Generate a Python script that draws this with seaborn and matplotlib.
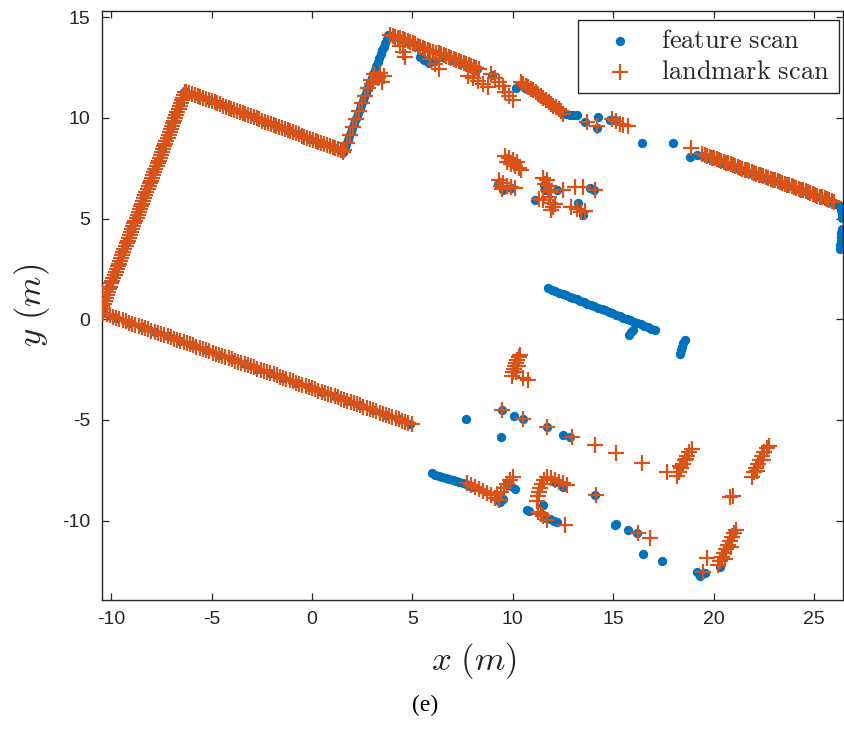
import numpy as np
import pandas as pd
import matplotlib
matplotlib.use("Agg")
import matplotlib.pyplot as plt
import seaborn as sns

BLUE = "#0072BD"
ORANGE = "#D95319"

# ---------------- feature scan (dots) ----------------
feat_wall_a_x = [-10.55, -10.33, -10.11, -9.89, -9.67, -9.45, -9.23, -9.01, -8.79, -8.57,
                 -8.35, -8.13, -7.91, -7.69, -7.47, -7.25, -7.03, -6.81, -6.59, -6.37]
feat_wall_a_y = [0.50, 1.07, 1.63, 2.20, 2.77, 3.34, 3.91, 4.47, 5.04, 5.61,
                 6.18, 6.75, 7.31, 7.88, 8.45, 9.02, 9.59, 10.15, 10.72, 11.29]

feat_wall_b_x = [-6.26, -5.70, -5.14, -4.58, -4.02, -3.46, -2.90, -2.34, -1.78, -1.22,
                 -0.66, -0.10, 0.46, 1.02, 1.55]
feat_wall_b_y = [11.31, 11.10, 10.88, 10.67, 10.46, 10.25, 10.03, 9.82, 9.61, 9.40,
                 9.18, 8.97, 8.76, 8.55, 8.33]

feat_wall_c_x = [1.55, 1.62, 1.70, 1.77, 1.85, 1.92, 2.00, 2.07, 2.15, 2.22, 2.30, 2.37,
                 2.45, 2.52, 2.60, 2.67, 2.75, 2.82, 2.90, 2.97, 3.04, 3.12, 3.19, 3.27,
                 3.34, 3.42, 3.49, 3.57, 3.64, 3.72, 3.79]
feat_wall_c_y = [8.33, 8.52, 8.72, 8.91, 9.10, 9.30, 9.49, 9.68, 9.88, 10.07, 10.26, 10.46,
                 10.65, 10.84, 11.04, 11.23, 11.42, 11.62, 11.81, 12.00, 12.20, 12.39,
                 12.58, 12.78, 12.97, 13.16, 13.36, 13.55, 13.74, 13.94, 14.13]

feat_top_x = [4.00, 4.40, 4.80, 5.20, 5.37, 5.60, 5.85, 6.10, 6.50, 6.60, 7.00, 7.40, 7.80,
              8.20, 8.97, 10.15, 10.60, 11.00, 11.40, 11.80, 12.20, 12.50, 12.65, 12.85,
              13.00, 13.19, 13.60, 14.26, 14.18, 14.85, 15.10, 16.43, 17.96, 18.82, 19.20]
feat_top_y = [14.05, 13.90, 13.75, 13.60, 13.05, 12.90, 12.75, 12.85, 13.05, 13.10, 12.90,
              12.75, 12.60, 12.45, 12.14, 11.50, 11.50, 11.30, 11.00, 10.75, 10.50, 10.25,
              10.20, 10.15, 10.15, 10.15, 9.82, 10.07, 9.50, 9.90, 9.90, 8.74, 8.74, 8.08, 8.16]

feat_wall_e_x = [19.50, 19.85, 20.20, 20.55, 20.90, 21.25, 21.60, 21.95, 22.30, 22.65,
                 23.00, 23.35, 23.70, 24.05, 24.40, 24.75, 25.10, 25.45, 25.80, 26.10,
                 26.30, 26.35, 26.40, 26.42, 26.40, 26.37, 26.35, 26.33, 26.31, 26.30]
feat_wall_e_y = [8.10, 7.97, 7.85, 7.72, 7.60, 7.47, 7.35, 7.22, 7.10, 6.97,
                 6.85, 6.72, 6.60, 6.47, 6.35, 6.22, 6.10, 5.97, 5.85, 5.75,
                 5.65, 5.45, 5.25, 5.05, 4.50, 4.30, 4.10, 3.90, 3.70, 3.50]

feat_wall_f_x = [-10.55, -10.45, -9.76, -9.12, -8.48, -7.84, -7.20, -6.56, -5.92, -5.28,
                 -4.64, -4.00, -3.36, -2.72, -2.08, -1.44, -0.80, -0.16, 0.48, 1.12,
                 1.76, 2.40, 3.04, 3.68, 4.32, 4.90]
feat_wall_f_y = [0.30, 0.32, 0.07, -0.16, -0.39, -0.62, -0.85, -1.08, -1.30, -1.53,
                 -1.76, -1.99, -2.22, -2.45, -2.68, -2.91, -3.14, -3.37, -3.60, -3.83,
                 -4.05, -4.28, -4.51, -4.74, -4.97, -5.18]

feat_wall_g_x = [11.77, 11.95, 12.12, 12.30, 12.48, 12.66, 12.83, 13.01, 13.19, 13.37,
                 13.54, 13.72, 13.90, 14.07, 14.25, 14.43, 14.61, 14.78, 14.96, 15.14,
                 15.32, 15.49, 15.67, 15.85, 16.02, 16.20, 16.38, 16.56, 16.73, 16.91,
                 17.09, 15.80, 15.90, 16.00, 18.35, 18.40, 18.45, 18.50, 18.58]
feat_wall_g_y = [1.54, 1.47, 1.40, 1.33, 1.26, 1.19, 1.13, 1.06, 0.99, 0.92,
                 0.85, 0.78, 0.71, 0.64, 0.57, 0.50, 0.44, 0.37, 0.30, 0.23,
                 0.16, 0.09, 0.02, -0.05, -0.12, -0.19, -0.25, -0.32, -0.39, -0.46,
                 -0.53, -0.78, -0.65, -0.52, -1.70, -1.50, -1.35, -1.20, -1.05]

feat_wall_h_x = [5.96, 6.13, 6.31, 6.48, 6.65, 6.82, 7.00, 7.17, 7.34, 7.51, 7.69, 7.86, 8.03]
feat_wall_h_y = [-7.65, -7.71, -7.76, -7.82, -7.87, -7.93, -7.98, -8.04, -8.09, -8.15,
                 -8.20, -8.26, -8.31]

feat_spots_x = [9.25, 9.50, 9.90, 11.10, 11.55, 11.60, 12.20, 13.85, 14.05, 13.27, 13.52,
                7.67, 9.45, 9.40, 10.06, 10.52, 11.72, 12.49, 12.85, 9.70, 9.90, 10.10,
                9.50, 9.35, 10.69, 10.80, 11.52, 11.65, 11.85, 12.05, 12.19, 12.10, 12.52,
                14.10, 15.10, 15.12, 15.76, 16.20, 16.51, 17.43, 20.95, 20.30, 19.20,
                19.40, 19.60, 19.35]
feat_spots_y = [6.70, 6.40, 6.50, 5.95, 6.65, 6.40, 6.43, 6.51, 6.40, 5.76, 5.18,
                -4.97, -4.50, -5.86, -4.80, -4.97, -5.36, -5.75, -5.83, -8.15, -8.30, -8.45,
                -8.90, -9.05, -9.47, -9.50, -9.22, -9.85, -9.90, -10.00, -10.05, -8.06, -8.31,
                -8.73, -10.22, -10.15, -10.46, -10.60, -11.66, -11.99, -10.55, -12.30, -12.55,
                -12.65, -12.60, -12.75]

# ---------------- landmark scan (crosses) ----------------
land_wall_a_x = [-10.50, -10.45, -10.39, -10.34, -10.28, -10.23, -10.17, -10.12, -10.06, -10.01,
                 -9.95, -9.90, -9.84, -9.79, -9.73, -9.68, -9.62, -9.57, -9.51, -9.46,
                 -9.40, -9.35, -9.29, -9.24, -9.18, -9.13, -9.07, -9.02, -8.96, -8.91,
                 -8.85, -8.80, -8.74, -8.69, -8.63, -8.58, -8.52, -8.47, -8.41, -8.36,
                 -8.30, -8.25, -8.19, -8.14, -8.08, -8.03, -7.97, -7.92, -7.86, -7.81,
                 -7.75, -7.70, -7.64, -7.59, -7.53, -7.48, -7.42, -7.37, -7.31, -7.26,
                 -7.20, -7.15, -7.09, -7.04, -6.98, -6.93, -6.87, -6.82, -6.76, -6.71,
                 -6.65, -6.60, -6.54, -6.49, -6.43, -6.38, -6.32]
land_wall_a_y = [0.50, 0.64, 0.78, 0.93, 1.07, 1.21, 1.35, 1.49, 1.63, 1.78,
                 1.92, 2.06, 2.20, 2.35, 2.49, 2.63, 2.77, 2.91, 3.05, 3.20,
                 3.34, 3.48, 3.62, 3.77, 3.91, 4.05, 4.19, 4.33, 4.47, 4.62,
                 4.76, 4.90, 5.04, 5.19, 5.33, 5.47, 5.61, 5.75, 5.89, 6.04,
                 6.18, 6.32, 6.46, 6.61, 6.75, 6.89, 7.03, 7.17, 7.31, 7.46,
                 7.60, 7.74, 7.88, 8.03, 8.17, 8.31, 8.45, 8.59, 8.73, 8.88,
                 9.02, 9.16, 9.30, 9.45, 9.59, 9.73, 9.87, 10.01, 10.15, 10.30,
                 10.44, 10.58, 10.72, 10.87, 11.01, 11.15, 11.29]

land_wall_b_x = [-6.26, -6.12, -5.98, -5.84, -5.70, -5.56, -5.42, -5.28, -5.14, -5.00,
                 -4.86, -4.72, -4.58, -4.44, -4.30, -4.16, -4.02, -3.88, -3.74, -3.60,
                 -3.46, -3.32, -3.18, -3.04, -2.90, -2.76, -2.62, -2.48, -2.34, -2.20,
                 -2.06, -1.92, -1.78, -1.64, -1.50, -1.36, -1.22, -1.08, -0.94, -0.80,
                 -0.66, -0.52, -0.38, -0.24, -0.10, 0.04, 0.18, 0.32, 0.46, 0.60,
                 0.74, 0.88, 1.02, 1.16, 1.30, 1.43, 1.55]
land_wall_b_y = [11.31, 11.26, 11.20, 11.15, 11.10, 11.04, 10.99, 10.94, 10.88, 10.83,
                 10.78, 10.72, 10.67, 10.62, 10.56, 10.51, 10.46, 10.40, 10.35, 10.30,
                 10.25, 10.19, 10.14, 10.09, 10.03, 9.98, 9.93, 9.87, 9.82, 9.77,
                 9.71, 9.66, 9.61, 9.56, 9.50, 9.45, 9.40, 9.34, 9.29, 9.24,
                 9.18, 9.13, 9.08, 9.02, 8.97, 8.92, 8.86, 8.81, 8.76, 8.71,
                 8.65, 8.60, 8.55, 8.49, 8.44, 8.39, 8.33]

land_wall_c_x = [1.60, 1.75, 1.90, 2.05, 2.20, 2.35, 2.50, 2.65, 2.80, 2.95,
                 3.10, 3.30, 3.50, 3.00, 3.60, 3.40]
land_wall_c_y = [8.40, 8.78, 9.17, 9.55, 9.94, 10.33, 10.72, 11.10, 11.48, 11.88,
                 12.20, 12.00, 11.80, 11.70, 12.10, 12.25]

land_top_x = [3.90, 4.15, 4.40, 4.65, 4.90, 5.15, 5.40, 5.65, 5.90, 6.15, 4.40, 4.55, 4.65,
              5.90, 6.10, 6.30, 6.30, 6.55, 6.80, 7.05, 7.30, 7.55, 7.80, 8.05, 8.30,
              7.75, 8.00, 8.25, 8.50, 8.75, 8.90, 9.10, 9.30, 9.50, 9.60, 9.80, 10.00,
              10.40, 10.65, 10.90, 11.15, 11.40, 11.65, 11.90, 12.15, 12.40, 12.50,
              13.69, 14.18, 14.95, 15.15, 15.35, 15.50, 15.75, 18.90,
              4.02, 4.28, 4.52, 4.78, 5.02, 5.28, 5.52, 5.78, 6.02, 6.42, 6.68, 6.92,
              7.18, 7.42, 7.68, 7.92, 8.18, 10.52, 10.78, 11.02, 11.28, 11.52, 11.78,
              12.02, 12.28]
land_top_y = [14.12, 14.00, 13.95, 13.85, 13.75, 13.65, 13.55, 13.45, 13.35, 13.25, 13.60,
              13.30, 13.05, 12.95, 12.70, 12.45, 13.25, 13.15, 13.05, 12.95, 12.85, 12.75,
              12.65, 12.55, 12.45, 12.10, 12.00, 11.85, 11.70, 11.55, 12.20, 12.00, 11.80,
              11.60, 11.30, 11.10, 10.90, 11.80, 11.60, 11.45, 11.30, 11.10, 10.90, 10.70,
              10.55, 10.35, 10.20, 9.82, 9.62, 9.95, 9.85, 9.70, 9.65, 9.60, 8.50,
              14.06, 13.97, 13.90, 13.80, 13.70, 13.60, 13.50, 13.40, 13.30, 13.20, 13.10,
              13.00, 12.90, 12.80, 12.70, 12.60, 12.50, 11.70, 11.52, 11.38, 11.20, 11.00,
              10.80, 10.62, 10.45]

land_wall_e_x = [19.45, 19.57, 19.68, 19.80, 19.92, 20.04, 20.15, 20.27, 20.39, 20.50,
                 20.62, 20.74, 20.85, 20.97, 21.09, 21.20, 21.32, 21.44, 21.56, 21.67,
                 21.79, 21.91, 22.02, 22.14, 22.26, 22.38, 22.49, 22.61, 22.73, 22.84,
                 22.96, 23.08, 23.19, 23.31, 23.43, 23.55, 23.66, 23.78, 23.90, 24.01,
                 24.13, 24.25, 24.36, 24.48, 24.60, 24.71, 24.83, 24.95, 25.07, 25.18,
                 25.30, 25.42, 25.53, 25.65, 25.77, 25.88, 26.00]
land_wall_e_y = [8.20, 8.16, 8.12, 8.07, 8.03, 7.99, 7.95, 7.91, 7.86, 7.82,
                 7.78, 7.74, 7.70, 7.65, 7.61, 7.57, 7.53, 7.49, 7.44, 7.40,
                 7.36, 7.32, 7.28, 7.23, 7.19, 7.15, 7.11, 7.07, 7.03, 6.98,
                 6.94, 6.90, 6.86, 6.82, 6.77, 6.73, 6.69, 6.65, 6.61, 6.56,
                 6.52, 6.48, 6.44, 6.40, 6.35, 6.31, 6.27, 6.23, 6.19, 6.14,
                 6.10, 6.06, 6.02, 5.98, 5.93, 5.89, 5.85]

land_wall_f_x = [-10.40, -10.24, -10.08, -9.92, -9.76, -9.60, -9.44, -9.28, -9.12, -8.96,
                 -8.80, -8.64, -8.48, -8.32, -8.16, -8.00, -7.84, -7.68, -7.52, -7.36,
                 -7.20, -7.04, -6.88, -6.72, -6.56, -6.40, -6.24, -6.08, -5.92, -5.76,
                 -5.60, -5.44, -5.28, -5.12, -4.96, -4.80, -4.64, -4.48, -4.32, -4.16,
                 -4.00, -3.84, -3.68, -3.52, -3.36, -3.20, -3.04, -2.88, -2.72, -2.56,
                 -2.40, -2.24, -2.08, -1.92, -1.76, -1.60, -1.44, -1.28, -1.12, -0.96,
                 -0.80, -0.64, -0.48, -0.32, -0.16, 0.00, 0.16, 0.32, 0.48, 0.64,
                 0.80, 0.96, 1.12, 1.28, 1.44, 1.60, 1.76, 1.92, 2.08, 2.24,
                 2.40, 2.56, 2.72, 2.88, 3.04, 3.20, 3.36, 3.52, 3.68, 3.84,
                 4.00, 4.16, 4.32, 4.48, 4.64, 4.80, 4.96]
land_wall_f_y = [0.30, 0.24, 0.19, 0.13, 0.07, 0.01, -0.04, -0.10, -0.16, -0.22,
                 -0.27, -0.33, -0.39, -0.45, -0.50, -0.56, -0.62, -0.67, -0.73, -0.79,
                 -0.85, -0.90, -0.96, -1.02, -1.08, -1.13, -1.19, -1.25, -1.30, -1.36,
                 -1.42, -1.48, -1.53, -1.59, -1.65, -1.71, -1.76, -1.82, -1.88, -1.93,
                 -1.99, -2.05, -2.11, -2.16, -2.22, -2.28, -2.34, -2.39, -2.45, -2.51,
                 -2.57, -2.62, -2.68, -2.74, -2.79, -2.85, -2.91, -2.97, -3.02, -3.08,
                 -3.14, -3.20, -3.25, -3.31, -3.37, -3.42, -3.48, -3.54, -3.60, -3.65,
                 -3.71, -3.77, -3.83, -3.88, -3.94, -4.00, -4.05, -4.11, -4.17, -4.23,
                 -4.28, -4.34, -4.40, -4.46, -4.51, -4.57, -4.63, -4.68, -4.74, -4.80,
                 -4.86, -4.91, -4.97, -5.03, -5.09, -5.14, -5.20]

land_mid_x = [9.60, 9.80, 10.00, 10.20, 9.70, 9.90, 10.10, 10.30, 10.40,
              9.30, 9.40, 9.50, 9.70, 9.90, 10.10, 9.45,
              11.50, 11.70, 11.60, 11.80, 11.75, 11.90, 11.30, 11.50, 11.80, 11.85, 12.00,
              11.90, 12.10, 12.52, 13.10, 13.52, 14.10, 12.90, 13.20, 13.40, 13.60]
land_mid_y = [8.10, 8.00, 7.90, 7.80, 7.80, 7.70, 7.60, 7.50, 7.40,
              6.90, 6.60, 6.75, 6.60, 6.55, 6.50, 6.45,
              7.00, 6.90, 6.70, 6.60, 6.40, 6.30, 6.00, 5.95, 6.10, 5.80, 5.60,
              5.45, 5.75, 6.43, 6.59, 6.59, 6.43, 5.60, 5.50, 5.35, 5.40]

land_low_x = [9.95, 10.00, 10.05, 10.10, 10.15, 10.20, 10.30, 10.35, 10.15, 10.25, 10.50, 10.77,
              9.45, 10.52, 11.72, 12.94, 14.10, 15.13, 16.43, 17.68,
              18.20, 18.30, 18.40, 18.50, 18.60, 18.70, 18.80, 18.95, 18.35, 18.65,
              21.90, 22.00, 22.10, 22.20, 22.30, 22.40, 22.50, 22.65, 22.75, 22.15, 22.45,
              20.83, 20.95,
              7.70, 7.90, 8.10, 8.30, 8.50, 8.70, 8.90, 9.10, 9.30, 9.20, 9.40, 9.55, 9.70,
              9.85, 10.00,
              11.26, 11.50, 11.69, 11.40, 12.60,
              11.20, 11.25, 11.30, 11.35, 11.45, 11.55, 11.70, 11.90, 12.10, 12.30, 12.50, 12.70,
              14.15, 16.26, 16.84,
              20.20, 20.30, 20.40, 20.50, 20.60, 20.70, 20.80, 20.90, 21.00, 21.10, 20.55, 20.85,
              19.67, 19.50]
land_low_y = [-2.80, -2.60, -2.45, -2.30, -2.15, -2.00, -1.85, -1.75, -2.60, -2.30, -2.90, -3.00,
              -4.50, -4.97, -5.36, -5.83, -6.24, -6.65, -7.12, -7.60,
              -7.80, -7.60, -7.40, -7.20, -7.00, -6.80, -6.60, -6.45, -7.30, -6.95,
              -7.85, -7.60, -7.40, -7.20, -7.00, -6.80, -6.60, -6.40, -6.30, -7.55, -7.00,
              -8.81, -8.78,
              -8.15, -8.25, -8.35, -8.45, -8.55, -8.65, -8.75, -8.85, -8.95, -8.70, -8.60, -8.40,
              -8.20, -8.00, -7.85,
              -9.56, -9.75, -9.97, -9.65, -10.22,
              -9.00, -8.80, -8.60, -8.40, -8.20, -8.00, -7.85, -7.90, -8.00, -8.10, -8.15, -8.25,
              -8.73, -10.63, -10.88,
              -12.20, -12.00, -11.80, -11.60, -11.40, -11.20, -11.00, -10.80, -10.60, -10.45,
              -11.90, -11.30,
              -11.87, -12.54]

x_ticks = [-10, -5, 0, 5, 10, 15, 20, 25]
y_ticks = [-10, -5, 0, 5, 10, 15]

feature = pd.DataFrame({
    "x": feat_wall_a_x + feat_wall_b_x + feat_wall_c_x + feat_top_x + feat_wall_e_x
         + feat_wall_f_x + feat_wall_g_x + feat_wall_h_x + feat_spots_x,
    "y": feat_wall_a_y + feat_wall_b_y + feat_wall_c_y + feat_top_y + feat_wall_e_y
         + feat_wall_f_y + feat_wall_g_y + feat_wall_h_y + feat_spots_y,
})
landmark = pd.DataFrame({
    "x": land_wall_a_x + land_wall_b_x + land_wall_c_x + land_top_x + land_wall_e_x
         + land_wall_f_x + land_mid_x + land_low_x,
    "y": land_wall_a_y + land_wall_b_y + land_wall_c_y + land_top_y + land_wall_e_y
         + land_wall_f_y + land_mid_y + land_low_y,
})

sns.set_theme(style="white")
plt.rcParams["font.family"] = ["Liberation Sans", "DejaVu Sans"]
plt.rcParams["mathtext.fontset"] = "cm"
plt.rcParams["axes.unicode_minus"] = False

fig = plt.figure(figsize=(8.44, 7.36), dpi=100)
ax = fig.add_axes([0.1205, 0.1848, 0.8783, 0.8007])

sns.scatterplot(data=feature, x="x", y="y", ax=ax, color=BLUE, marker="o", s=45,
                linewidth=0, label=r"$\mathrm{feature\ scan}$", zorder=2)
sns.scatterplot(data=landmark, x="x", y="y", ax=ax, color=ORANGE, marker="+", s=130,
                linewidth=1.6, label=r"$\mathrm{landmark\ scan}$", zorder=3)

ax.set_xlim(-10.48, 26.45)
ax.set_ylim(-13.94, 15.33)
ax.set_xticks(x_ticks)
ax.set_yticks(y_ticks)
ax.set_xticklabels([str(v) for v in x_ticks])
ax.set_yticklabels([str(v) for v in y_ticks])

spine_col = "#262626"
for sp in ax.spines.values():
    sp.set_visible(True)
    sp.set_color(spine_col)
    sp.set_linewidth(1.0)
ax.tick_params(axis="both", which="major", direction="in", length=5, width=0.9,
               color=spine_col, labelcolor=spine_col, labelsize=14, pad=8,
               top=True, right=True, bottom=True, left=True)

ax.set_xlabel(r"$x\ (m)$", fontsize=25, color="#262626")
ax.set_ylabel(r"$y\ (m)$", fontsize=25, color="#262626")
ax.xaxis.set_label_coords(0.502, -0.070)
ax.yaxis.set_label_coords(-0.067, 0.50)

leg = ax.legend(loc="upper right", bbox_to_anchor=(0.9946, 0.9842), borderaxespad=0,
                frameon=True, fancybox=False, framealpha=1, edgecolor=spine_col,
                fontsize=19, handletextpad=0.3, borderpad=0.35, labelspacing=0.25,
                handlelength=2.5)
leg.get_frame().set_linewidth(1.0)

fig.text(0.5036, 0.042, "(e)", ha="center", va="center", fontsize=17,
         family=["Liberation Serif", "DejaVu Serif"], color="black")

fig.savefig("out.png", dpi=100)
